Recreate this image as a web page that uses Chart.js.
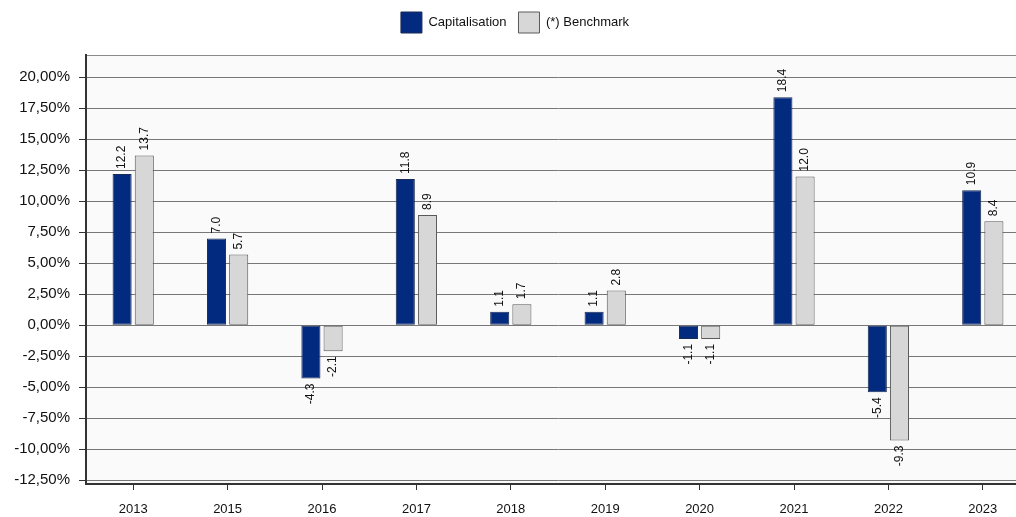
<!DOCTYPE html>
<html>
<head>
<meta charset="utf-8">
<script src="https://cdn.jsdelivr.net/npm/chart.js@4.4.1/dist/chart.umd.min.js"></script>
<style>
    html, body { margin: 0; padding: 0; background: #fff; overflow: hidden; }
    #wrap { position: relative; width: 1030px; height: 517px; }
</style>
</head>
<body>
<div id="wrap"><canvas id="perfChart"></canvas></div>
<script>
const years = ['2013', '2015', '2016', '2017', '2018', '2019', '2020', '2021', '2022', '2023']
const capitalisation = [12.2, 7.0, -4.3, 11.8, 1.1, 1.1, -1.1, 18.4, -5.4, 10.9]
const benchmark = [13.7, 5.7, -2.1, 8.9, 1.7, 2.8, -1.1, 12.0, -9.3, 8.4]
const yTicks = [-12.5, -10, -7.5, -5, -2.5, 0, 2.5, 5, 7.5, 10, 12.5, 15, 17.5, 20]

const FONT = "'Liberation Sans', Arial, sans-serif"

// extra room between legend and plot
const legendGap = {
    id: 'legendGap',
    afterInit(chart) {
        const legend = chart.legend
        if (!legend) return
        const fit = legend.fit.bind(legend)
        legend.fit = function() {
            fit()
            this.height += 12
        }
    }
}

// light plot background + top frame line
const plotFrame = {
    id: 'plotFrame',
    beforeDraw(chart) {
        const a = chart.chartArea, ctx = chart.ctx
        ctx.save()
        ctx.fillStyle = '#fafafa'
        ctx.fillRect(a.left, a.top, a.right - a.left, a.bottom - a.top)
        ctx.strokeStyle = '#8a8a8a'
        ctx.lineWidth = 1
        ctx.beginPath()
        ctx.moveTo(a.left, a.top + 0.5)
        ctx.lineTo(a.right, a.top + 0.5)
        ctx.stroke()
        ctx.restore()
    }
}

// vertical value labels at the end of each bar
const barValues = {
    id: 'barValues',
    afterDatasetsDraw(chart) {
        const ctx = chart.ctx
        ctx.save()
        ctx.fillStyle = '#111'
        ctx.font = '12px ' + FONT
        ctx.textBaseline = 'middle'
        chart.data.datasets.forEach((ds, i) => {
            chart.getDatasetMeta(i).data.forEach((bar, j) => {
                const v = ds.data[j]
                ctx.save()
                if (v >= 0) {
                    ctx.translate(bar.x, bar.y - 5)
                    ctx.textAlign = 'left'
                } else {
                    ctx.translate(bar.x, bar.y + 5)
                    ctx.textAlign = 'right'
                }
                ctx.rotate(-Math.PI / 2)
                ctx.fillText(v.toFixed(1), 0, 0)
                ctx.restore()
            })
        })
        ctx.restore()
    }
}

new Chart(document.getElementById('perfChart'), {
    type: 'bar',
    data: {
        labels: years,
        datasets: [
            {
                label: 'Capitalisation',
                data: capitalisation,
                backgroundColor: '#022a7e',
                borderColor: '#1a2a55',
                borderWidth: 1,
                borderSkipped: false
            },
            {
                label: '(*) Benchmark',
                data: benchmark,
                backgroundColor: '#d7d7d7',
                borderColor: '#5a5a5a',
                borderWidth: 1,
                borderSkipped: false
            }
        ]
    },
    options: {
        responsive: true,
        maintainAspectRatio: false,
        animation: false,
        layout: { padding: { top: 0, right: 0, bottom: 0, left: 0 } },
        datasets: {
            bar: { categoryPercentage: 0.47, barPercentage: 0.86 }
        },
        plugins: {
            tooltip: { enabled: false },
            legend: {
                position: 'top',
                labels: {
                    boxWidth: 21,
                    boxHeight: 21,
                    padding: 12,
                    color: '#111',
                    font: { family: FONT, size: 13 }
                }
            }
        },
        scales: {
            x: {
                offset: true,
                grid: {
                    offset: false,
                    drawOnChartArea: false,
                    drawTicks: true,
                    tickLength: 6,
                    color: '#333'
                },
                border: { color: '#333', width: 2 },
                ticks: {
                    color: '#111',
                    padding: 12,
                    maxRotation: 0,
                    font: { family: FONT, size: 13 }
                },
                afterFit(scale) { scale.height = 33 }
            },
            y: {
                min: -12.8,
                max: 21.8,
                afterBuildTicks(scale) {
                    scale.ticks = yTicks.map(v => ({ value: v }))
                },
                grid: {
                    color: '#777',
                    lineWidth: 1,
                    drawTicks: true,
                    tickLength: 7,
                    tickColor: '#333'
                },
                border: { color: '#333', width: 2 },
                ticks: {
                    color: '#111',
                    padding: 9,
                    font: { family: FONT, size: 15 },
                    callback: v => v.toFixed(2).replace('.', ',') + '%'
                },
                afterFit(scale) { scale.width = 86 }
            }
        }
    },
    plugins: [legendGap, plotFrame, barValues]
})
</script>
</body>
</html>
